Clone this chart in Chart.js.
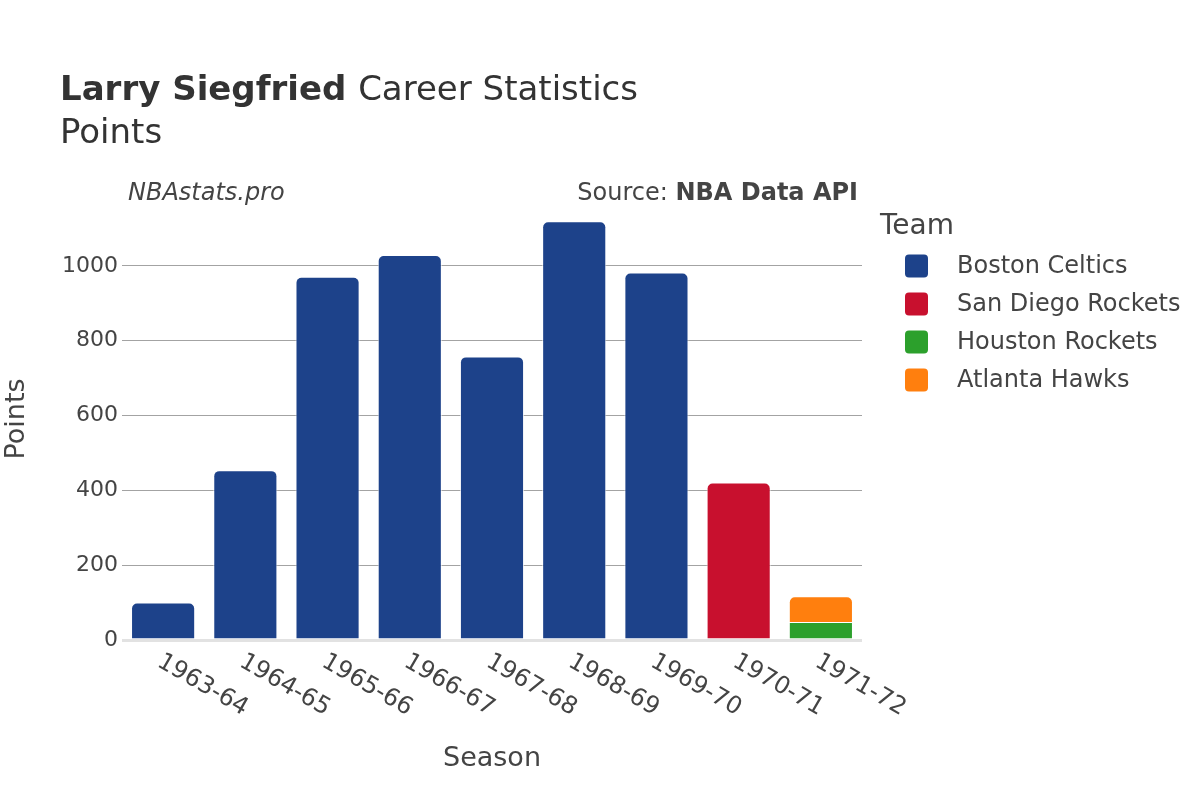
<!DOCTYPE html>
<html>
<head>
<meta charset="utf-8">
<script src="https://cdn.jsdelivr.net/npm/chart.js@4.4.1/dist/chart.umd.min.js"></script>
<style>
  html, body { margin: 0; padding: 0; background: #fff; }
  #wrap { width: 1200px; height: 800px; }
</style>
</head>
<body>
<div id="wrap"><canvas id="grafico" width="1200" height="800"></canvas></div>
<script>
// dados
const seasons = ['1963-64', '1964-65', '1965-66', '1966-67', '1967-68', '1968-69', '1969-70', '1970-71', '1971-72'];
const bostonCeltics   = [100, 454, 971, 1029, 758, 1119, 982, null, null];
const sanDiegoRockets = [null, null, null, null, null, null, null, 421, null];
const houstonRockets  = [null, null, null, null, null, null, null, null, 48];
const atlantaHawks    = [null, null, null, null, null, null, null, null, 69];
const yTicks = [0, 200, 400, 600, 800, 1000];

const teams = ['Boston Celtics', 'San Diego Rockets', 'Houston Rockets', 'Atlanta Hawks'];
const cores = ['#1d428a', '#c8102e', '#2ca02c', '#ff7f0e'];

const FONT = '"DejaVu Sans", sans-serif';
const TXT = '#444';

// area do grafico (pixels)
const AREA = { left: 122, right: 862, top: 200, bottom: 640 };

function ds(label, data, cor, raio) {
  return {
    label, data,
    backgroundColor: cor,
    borderColor: 'rgba(255,255,255,0.7)',
    borderWidth: 1,
    borderSkipped: 'start',
    borderRadius: raio ? { topLeft: raio, topRight: raio, bottomLeft: 0, bottomRight: 0 } : 0,
    categoryPercentage: 1,
    barPercentage: 0.78
  };
}

// titulo, anotacoes, legenda, rotulos rotacionados
const extras = {
  id: 'extras',
  afterDraw(chart) {
    const ctx = chart.ctx;
    ctx.save();
    ctx.fillStyle = '#333';
    ctx.textBaseline = 'alphabetic';
    ctx.textAlign = 'left';

    ctx.font = 'bold 34px ' + FONT;
    ctx.fillText('Larry Siegfried', 60, 100);
    const w = ctx.measureText('Larry Siegfried ').width;
    ctx.font = '34px ' + FONT;
    ctx.fillText('Career Statistics', 60 + w, 100);
    ctx.fillText('Points', 60, 143);

    ctx.fillStyle = TXT;
    ctx.font = 'italic 24px ' + FONT;
    ctx.fillText('NBAstats.pro', 128, 200);

    ctx.textAlign = 'right';
    ctx.font = 'bold 24px ' + FONT;
    ctx.fillText('NBA Data API', 858, 200);
    const wb = ctx.measureText('NBA Data API').width;
    ctx.font = '24px ' + FONT;
    ctx.fillText('Source: ', 858 - wb, 200);

    // eixo x: rotulos a 30 graus
    const xs = chart.scales.x;
    ctx.font = '24px ' + FONT;
    ctx.textAlign = 'left';
    ctx.textBaseline = 'middle';
    seasons.forEach((s, i) => {
      const px = xs.getPixelForTick(i);
      ctx.save();
      ctx.translate(px - 4, 660);
      ctx.rotate(Math.PI / 6);
      ctx.fillText(s, 0, 0);
      ctx.restore();
    });

    // titulos dos eixos
    ctx.font = '27px ' + FONT;
    ctx.textAlign = 'center';
    ctx.fillText('Season', 492, 759);
    ctx.save();
    ctx.translate(17, 419);
    ctx.rotate(-Math.PI / 2);
    ctx.fillText('Points', 0, 0);
    ctx.restore();

    // legenda
    ctx.textAlign = 'left';
    ctx.font = '28px ' + FONT;
    ctx.fillText('Team', 880, 227);
    ctx.font = '24px ' + FONT;
    chart.data.datasets.forEach((d, i) => {
      const y = 266 + i * 38;
      ctx.fillStyle = d.backgroundColor;
      ctx.beginPath();
      ctx.roundRect(905, y - 11.5, 23, 23, 4);
      ctx.fill();
      ctx.fillStyle = TXT;
      ctx.fillText(d.label, 957, y + 1);
    });
    ctx.restore();
  }
};

const ctx = document.getElementById('grafico').getContext('2d');
new Chart(ctx, {
  type: 'bar',
  data: {
    labels: seasons,
    datasets: [
      ds(teams[0], bostonCeltics, cores[0], 6),
      ds(teams[1], sanDiegoRockets, cores[1], 6),
      ds(teams[2], houstonRockets, cores[2], 0),
      ds(teams[3], atlantaHawks, cores[3], 6)
    ]
  },
  options: {
    responsive: false,
    animation: false,
    layout: { padding: { left: 0, top: AREA.top, right: 1200 - AREA.right, bottom: 800 - AREA.bottom } },
    plugins: { legend: { display: false }, tooltip: { enabled: false }, title: { display: false } },
    scales: {
      x: {
        stacked: true,
        ticks: { display: false },
        grid: { display: false },
        border: { display: false },
        afterFit(s) { s.height = 0; }
      },
      y: {
        stacked: true,
        min: 0,
        max: 1176,
        afterBuildTicks(s) { s.ticks = yTicks.map(v => ({ value: v })); },
        afterFit(s) { s.width = AREA.left; },
        ticks: { color: TXT, font: { family: FONT, size: 22 }, padding: 4, callback: v => String(v) },
        grid: {
          drawTicks: false,
          color: c => c.tick && c.tick.value === 0 ? '#e2e2e2' : '#a3a3a3',
          lineWidth: c => c.tick && c.tick.value === 0 ? 3 : 1
        },
        border: { display: false }
      }
    }
  },
  plugins: [extras]
});
</script>
</body>
</html>
